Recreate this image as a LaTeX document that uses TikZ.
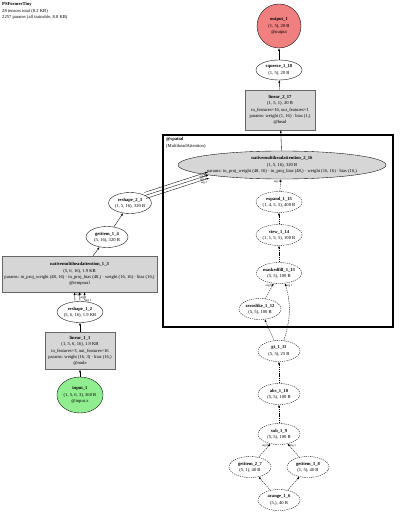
\documentclass[tikz,border=0pt]{standalone}
\usepackage{fontspec}
\setmainfont{Liberation Serif}
\usetikzlibrary{shapes.geometric, arrows.meta}

\newcommand{\gvfont}{\fontsize{4.6}{6.2}\selectfont}
\newcommand{\argfont}{\fontsize{3.1}{3.5}\selectfont}
\definecolor{outred}{RGB}{240,128,128}
\definecolor{ingreen}{RGB}{144,238,144}
\definecolor{modgray}{RGB}{214,214,214}

\tikzset{
  tensor/.style={ellipse, draw, line width=0.35pt, inner sep=0pt, align=center, font=\gvfont, minimum height=21pt, minimum width=42pt},
  ghost/.style={tensor, dash pattern=on 1.3pt off 0.9pt},
  modbox/.style={rectangle, draw=black!60, fill=modgray, line width=0.35pt, inner sep=1pt, align=center, font=\gvfont},
  flow/.style={->, line width=0.35pt},
  maskflow/.style={flow, dash pattern=on 1.3pt off 0.9pt},
  arglbl/.style={font=\argfont, inner sep=0.2pt}
}

\begin{document}
\begin{tikzpicture}[x=1pt, y=-1pt, >={Latex[length=2.6pt,width=1.9pt]}]
        % ==== CANVAS ====
        \useasboundingbox (0,0) rectangle (400,513);

        % ==== TITLE ====
        \node[anchor=north west, align=left, font=\gvfont, inner sep=0pt] (title) at (2,2.5)
            {\textbf{PSFormerTiny}\\28 tensors total (8.2 KB)\\2257 params (all trainable, 8.8 KB)};

        % ==== CLUSTER @spatial ====
        \draw[line width=1.4pt] (163,135) rectangle (393,327);
        \node[anchor=north west, align=left, font=\gvfont, inner sep=0pt] (spatial) at (166,137.5)
            {\textbf{@spatial}\\(MultiheadAttention)};

        % ==== LEFT BRANCH (input -> temporal attention) ====
        \node[tensor, fill=ingreen, minimum width=46pt, minimum height=36pt] (in1) at (80,395)
            {\textbf{input\_1}\\(1, 5, 6, 3), 360 B\\@input.x};
        \node[modbox, minimum width=70pt, minimum height=37pt] (lin1) at (80,351)
            {\textbf{linear\_1\_1}\\(1, 5, 6, 16), 1.9 KB\\in\_features=3, out\_features=16\\params: weight (16, 3) · bias (16,)\\@node};
        \node[tensor] (rs12) at (80,312) {\textbf{reshape\_1\_2}\\(5, 6, 16), 1.9 KB};
        \node[modbox, minimum width=155pt, minimum height=36pt] (mha1) at (79.5,274)
            {\textbf{nativemultiheadattention\_1\_3}\\(5, 6, 16), 1.9 KB\\
             \makebox[0pt][l]{\hspace{-75pt}params: in\_proj\_weight (48, 16) · in\_proj\_bias (48,) · weight (16, 16) · bias (16,)}\\@temporal};
        \node[tensor] (gi14) at (107,237) {\textbf{getitem\_1\_4}\\(5, 16), 320 B};
        \node[tensor] (rs23) at (130,203) {\textbf{reshape\_2\_3}\\(1, 5, 16), 320 B};

        % ==== MAIN COLUMN ====
        \node[tensor, fill=modgray, minimum width=208pt, minimum height=28pt, inner xsep=-40pt, inner ysep=-3pt] (mha2) at (282,165)
            {\textbf{nativemultiheadattention\_2\_16}\\(1, 5, 16), 320 B\\params: in\_proj\_weight (48, 16) · in\_proj\_bias (48,) · weight (16, 16) · bias (16,)};
        \node[modbox, minimum width=70pt, minimum height=40pt] (lin2) at (280,110)
            {\textbf{linear\_2\_17}\\(1, 5, 1), 20 B\\in\_features=16, out\_features=1\\params: weight (1, 16) · bias (1,)\\@head};
        \node[tensor, minimum width=46pt, minimum height=20pt] (sq18) at (279,70) {\textbf{squeeze\_1\_18}\\(1, 5), 20 B};
        \node[tensor, fill=outred, minimum width=44pt, minimum height=44pt] (out1) at (279,26)
            {\textbf{output\_1}\\(1, 5), 20 B\\@output};

        % ==== MASK BRANCH ====
        \node[ghost] (ex15) at (279,202) {\textbf{expand\_1\_15}\\(1, 4, 5, 5), 400 B};
        \node[ghost] (vw14) at (279,235) {\textbf{view\_1\_14}\\(1, 1, 5, 5), 100 B};
        \node[ghost] (mf13) at (279,273) {\textbf{maskedfill\_1\_13}\\(5, 5), 100 B};
        \node[ghost] (zl12) at (260,309) {\textbf{zeroslike\_1\_12}\\(5, 5), 100 B};
        \node[ghost] (gt11) at (279,351) {\textbf{gt\_1\_11}\\(5, 5), 25 B};
        \node[ghost] (ab10) at (279,394) {\textbf{abs\_1\_10}\\(5, 5), 100 B};
        \node[ghost] (sb9) at (279,434) {\textbf{sub\_1\_9}\\(5, 5), 100 B};
        \node[ghost] (gi27) at (250,467) {\textbf{getitem\_2\_7}\\(5, 1), 40 B};
        \node[ghost] (gi38) at (308,467) {\textbf{getitem\_3\_8}\\(1, 5), 40 B};
        \node[ghost] (ar6) at (279,500) {\textbf{arange\_1\_6}\\(5,), 40 B};

        % ==== EDGES: LEFT BRANCH ====
        \draw[flow] (in1) -- (lin1);
        \draw[flow] (lin1) -- (rs12);
        \foreach \dx/\k in {-5/0,0/1,5/2} {
            \draw[flow] ([xshift=\dx pt]rs12.north) -- ([xshift=\dx pt]mha1.south);
            \node[arglbl, anchor=north west] at ([xshift=\dx pt+0.4pt, yshift=-0.6pt-3*\k pt]mha1.south) {arg \k};
        }
        \draw[flow] (mha1) -- (gi14);
        \draw[flow] (gi14) -- (rs23);
        \foreach \s/\k in {-1/0,0/1,1/2} {
            \draw[flow] ([shift={(\s*0.8,\s*3)}]rs23.north east) -- ([shift={(\s*0.8,\s*3)}]mha2.south west);
            \node[arglbl, anchor=east] at ([shift={(\s*0.8-1.5,\s*3+5)}]mha2.south west) {arg \k};
        }

        % ==== EDGES: MAIN COLUMN ====
        \draw[flow] (mha2) -- (lin2);
        \draw[flow] (lin2) -- (sq18);
        \draw[flow] (sq18) -- (out1);

        % ==== EDGES: MASK BRANCH ====
        \draw[maskflow] (ex15) -- node[arglbl, pos=0.8, left] {arg 3} (mha2);
        \draw[maskflow] (vw14) -- (ex15);
        \draw[maskflow] (mf13) -- (vw14);
        \draw[maskflow] (zl12) -- node[arglbl, pos=0.85, left] {arg 0} (mf13);
        \draw[maskflow] (gt11.65) .. controls +(7,-22) and +(6,20) .. node[arglbl, pos=0.95, right] {arg 1} (mf13.-60);
        \draw[maskflow] (gt11.115) -- (zl12);
        \draw[maskflow] (ab10) -- (gt11);
        \draw[maskflow] (sb9) -- (ab10);
        \draw[maskflow] (gi27) -- node[arglbl, pos=0.85, left] {arg 0} (sb9);
        \draw[maskflow] (gi38) -- node[arglbl, pos=0.85, right] {arg 1} (sb9);
        \draw[maskflow] (ar6) -- (gi27);
        \draw[maskflow] (ar6) -- (gi38);
\end{tikzpicture}
\end{document}
